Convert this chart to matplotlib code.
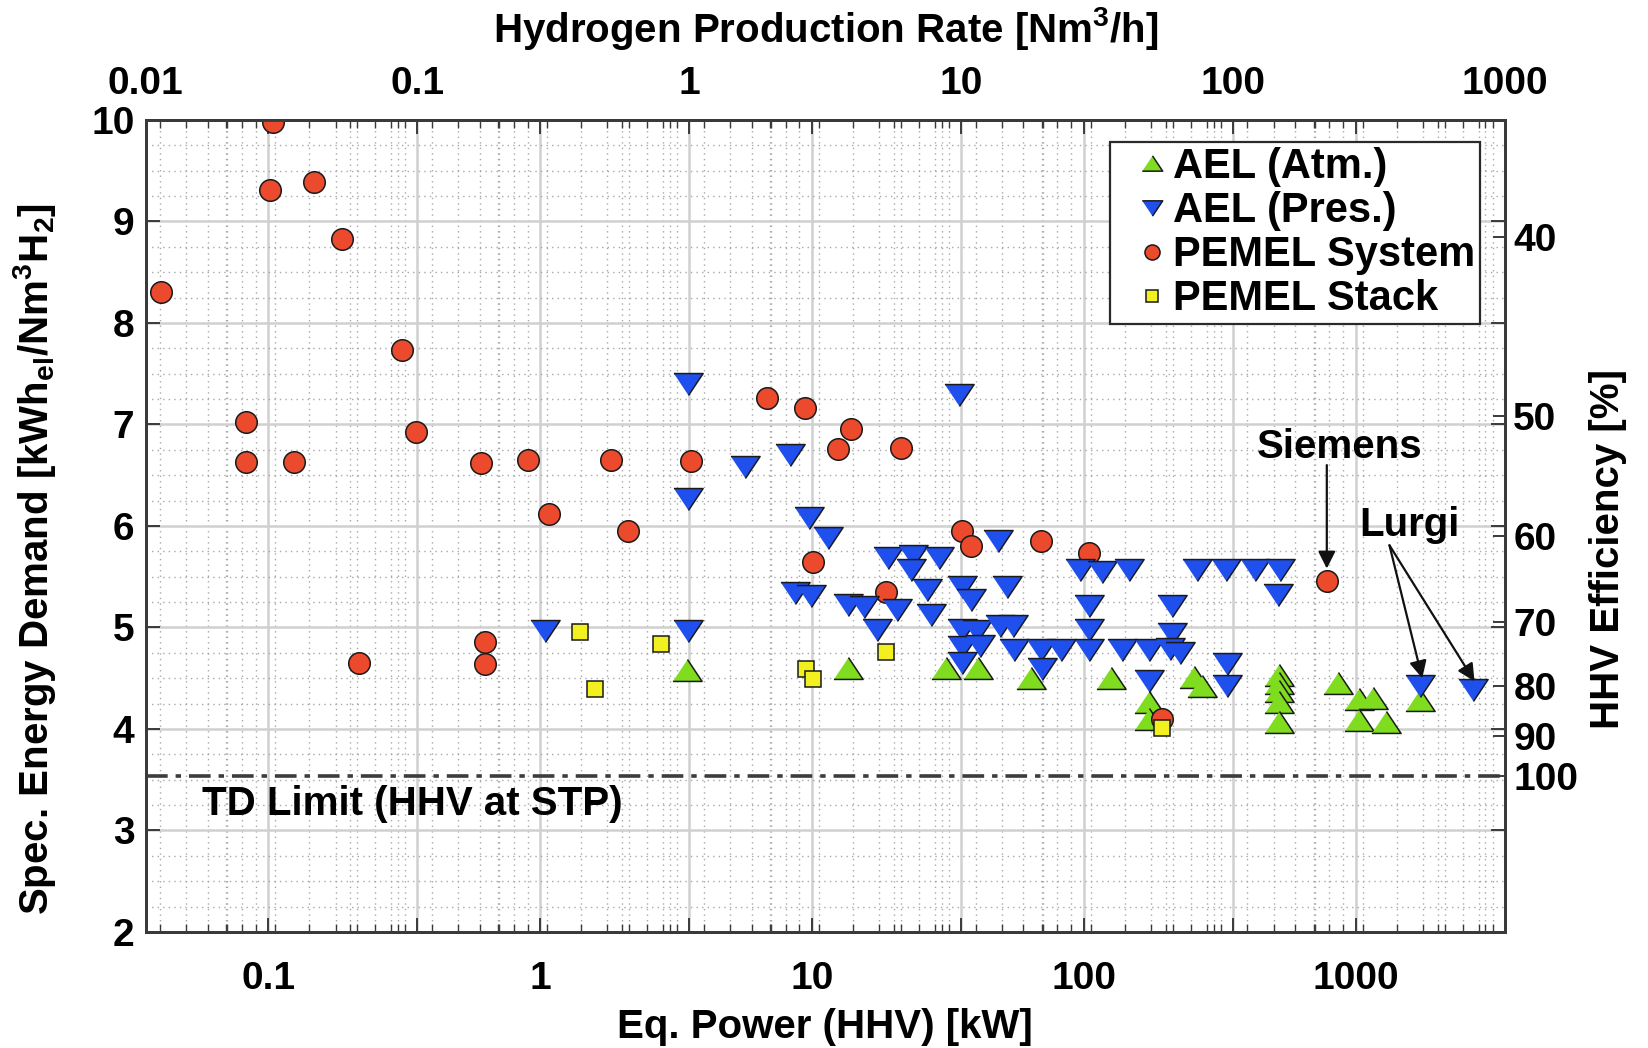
import matplotlib
matplotlib.use("Agg")
import matplotlib.pyplot as plt
from matplotlib.ticker import FixedLocator, FixedFormatter, LogLocator, MultipleLocator, NullFormatter, NullLocator

plt.rcParams['font.family'] = ['Liberation Sans', 'DejaVu Sans']
plt.rcParams['mathtext.default'] = 'regular'

# ---------------- data (x in kW HHV, y in kWh_el / Nm3 H2) ----------------
ael_atm_kw = [3.46, 13.6, 31.0, 40.8, 64.1, 126, 173, 173, 254, 273,
              521, 521, 521, 521, 521, 859, 1028, 1156, 1030, 1295, 1718]
ael_atm_y = [4.58, 4.60, 4.60, 4.60, 4.50, 4.50, 4.27, 4.10, 4.51, 4.42,
             4.53, 4.45, 4.37, 4.27, 4.07, 4.45, 4.30, 4.31, 4.09, 4.07, 4.29]

ael_pres_kw = [1.04, 3.50, 3.50, 3.50, 5.66, 8.29,
               34.8, 9.76, 11.5, 48.5, 19.0, 23.5, 29.3, 23.2, 26.4, 35.5, 38.6, 52.0,
               8.65, 9.96, 13.6, 15.5, 20.5, 27.5, 17.3, 35.5, 40.6, 49.1, 35.5, 41.4, 35.5,
               96.6, 116.6, 146.5, 260.6, 334, 104.4, 211.5, 54.9, 104.4, 211.5, 55.2,
               69.8, 82.7, 104.4, 138, 173, 207, 225, 70.2, 173, 337, 337,
               425, 528, 517, 1718, 2697]
ael_pres_y = [4.97, 7.40, 6.27, 4.97, 6.58, 6.70,
              7.29, 6.08, 5.88, 5.85, 5.68, 5.70, 5.68, 5.57, 5.37, 5.40, 5.27, 5.40,
              5.34, 5.31, 5.22, 5.20, 5.17, 5.12, 4.98, 4.98, 4.97, 5.01, 4.81, 4.82, 4.65,
              5.57, 5.55, 5.57, 5.57, 5.57, 5.21, 5.21, 5.01, 4.98, 4.94, 4.78,
              4.78, 4.78, 4.78, 4.78, 4.78, 4.79, 4.75, 4.59, 4.47, 4.64, 4.42,
              5.57, 5.57, 5.32, 4.42, 4.38]

pemel_sys_kw = [0.0405, 0.1045, 0.102, 0.147, 0.187, 0.31, 0.083, 0.35, 0.083, 0.125,
                0.605, 0.906, 1.83, 3.59, 6.85, 9.4, 1.08, 2.11, 0.216, 0.628, 0.628,
                10.1, 13.9, 12.5, 21.2, 35.5, 38.4, 18.7, 69.8, 104.4, 193.8, 783]
pemel_sys_y = [8.31, 9.98, 9.31, 9.39, 8.83, 7.73, 7.02, 6.93, 6.63, 6.63,
               6.62, 6.65, 6.65, 6.64, 7.26, 7.16, 6.12, 5.95, 4.65, 4.86, 4.64,
               5.65, 6.96, 6.76, 6.77, 5.95, 5.80, 5.35, 5.85, 5.73, 4.10, 5.46]

pemel_stack_kw = [1.40, 1.59, 2.79, 9.49, 10.1, 18.7, 193.8]
pemel_stack_y = [4.96, 4.39, 4.84, 4.59, 4.49, 4.76, 4.01]

hhv = 3.54                      # kWh / Nm3 (thermodynamic limit)
eff_ticks = [40, 50, 60, 70, 80, 90, 100]
bottom_ticks = [0.1, 1, 10, 100, 1000]
bottom_labels = ['0.1', '1', '10', '100', '1000']
top_ticks = [0.01, 0.1, 1, 10, 100, 1000]
top_labels = ['0.01', '0.1', '1', '10', '100', '1000']
y_ticks = [2, 3, 4, 5, 6, 7, 8, 9, 10]

# ---------------- figure ----------------
fig = plt.figure(figsize=(16.48, 10.48), dpi=100)
ax = fig.add_axes([0.0883, 0.1107, 0.8249, 0.7748])
ax_top = ax.twiny()
ax_right = ax.twinx()

ax_top.set_zorder(0)
ax.set_zorder(1)
ax_right.set_zorder(2)
ax.patch.set_visible(False)
ax_right.patch.set_visible(False)
ax_top.patch.set_facecolor('white')

TICK_FS = 28
LABEL_FS = 29
TXT = dict(fontsize=LABEL_FS, fontweight='bold')
spine_c = '#3a3a3a'
major_grid = dict(color='#d0d0d0', linewidth=1.8, linestyle='-')
minor_grid = dict(color='#a8a8a8', linewidth=1.0, linestyle=(0, (1, 3)))

# bottom axis (kW)
ax.set_xscale('log')
ax.set_xlim(0.01 * hhv, 1000 * hhv)
ax.set_ylim(2, 10)
ax.xaxis.set_major_locator(FixedLocator(bottom_ticks))
ax.xaxis.set_major_formatter(FixedFormatter(bottom_labels))
ax.xaxis.set_minor_locator(LogLocator(base=10, subs=range(2, 10), numticks=20))
ax.xaxis.set_minor_formatter(NullFormatter())
ax.yaxis.set_major_locator(FixedLocator(y_ticks))
ax.yaxis.set_minor_locator(MultipleLocator(0.25))
ax.yaxis.set_minor_formatter(NullFormatter())
ax.tick_params(axis='x', which='both', direction='in', bottom=True, top=True,
               labelbottom=True, labeltop=False, pad=21, color=spine_c)
ax.tick_params(axis='x', which='major', length=10, width=1.4)
ax.tick_params(axis='x', which='minor', length=6, width=1.0)
ax.tick_params(axis='y', which='major', direction='in', left=True, right=True,
               labelleft=True, labelright=False, length=10,
               width=1.4, pad=8, color=spine_c)
ax.tick_params(axis='y', which='minor', length=0)
ax.grid(True, which='major', axis='both', **major_grid)
ax.grid(True, which='minor', axis='both', **minor_grid)
ax.set_axisbelow(True)

# top axis (Nm3/h)
ax_top.set_xscale('log')
ax_top.set_xlim(0.01, 1000)
ax_top.xaxis.set_major_locator(FixedLocator(top_ticks))
ax_top.xaxis.set_major_formatter(FixedFormatter(top_labels))
ax_top.xaxis.set_minor_locator(LogLocator(base=10, subs=range(2, 10), numticks=20))
ax_top.xaxis.set_minor_formatter(NullFormatter())
ax_top.tick_params(axis='x', which='both', direction='in', bottom=True, top=True,
                   labelbottom=False, labeltop=True, pad=13, color=spine_c)
ax_top.tick_params(axis='x', which='major', length=10, width=1.4)
ax_top.tick_params(axis='x', which='minor', length=6, width=1.0)
ax_top.grid(True, which='major', axis='x', **major_grid)
ax_top.grid(True, which='minor', axis='x', **minor_grid)
ax_top.set_xlabel('Hydrogen Production Rate [Nm$^3$/h]', labelpad=17, **TXT)

# right axis (efficiency)
ax_right.set_ylim(2, 10)
ax_right.yaxis.set_major_locator(FixedLocator([hhv * 100.0 / e for e in eff_ticks]))
ax_right.yaxis.set_major_formatter(FixedFormatter([str(e) for e in eff_ticks]))
ax_right.yaxis.set_minor_locator(NullLocator())
ax_right.tick_params(axis='y', direction='in', right=True, left=False, length=9,
                     width=1.4, pad=6, color=spine_c)
ax_right.set_ylabel('HHV Efficiency [%]', **TXT)
ax_right.yaxis.set_label_coords(1.062, 0.472)

for a in (ax, ax_top, ax_right):
    for s in a.spines.values():
        s.set_linewidth(2.0)
        s.set_color(spine_c)
    for lab in a.get_xticklabels() + a.get_yticklabels():
        lab.set_fontsize(TICK_FS)
        lab.set_fontweight('bold')

# ---------------- markers ----------------
tri_up = [(-1, -0.75), (1, -0.75), (0, 0.75)]
tri_dn = [(-1, 0.75), (1, 0.75), (0, -0.75)]
ax.plot(ael_atm_kw, ael_atm_y, linestyle='none', marker=tri_up, markersize=21,
        markerfacecolor='#7fdc1e', markeredgecolor='#1a1a1a', markeredgewidth=1.1,
        label='AEL (Atm.)', zorder=3)
ax.plot(pemel_sys_kw, pemel_sys_y, linestyle='none', marker='o', markersize=15.5,
        markerfacecolor='#ec4a2c', markeredgecolor='#1a1a1a', markeredgewidth=1.1,
        label='PEMEL System', zorder=4)
ax.plot(ael_pres_kw, ael_pres_y, linestyle='none', marker=tri_dn, markersize=21,
        markerfacecolor='#1f50ee', markeredgecolor='#1a1a1a', markeredgewidth=1.1,
        label='AEL (Pres.)', zorder=5)
ax.plot(pemel_stack_kw, pemel_stack_y, linestyle='none', marker='s', markersize=11.5,
        markerfacecolor='#f2f01e', markeredgecolor='#1a1a1a', markeredgewidth=1.1,
        label='PEMEL Stack', zorder=6)

# thermodynamic limit
ax.axhline(hhv, color='#3c3c3c', linewidth=2.6, linestyle=(0, (6, 2.2, 1.5, 2.2)), zorder=2)
ax.text(0.0571, 3.26, 'TD Limit (HHV at STP)', ha='left', va='center', zorder=7, **TXT)

# annotations
arrow_kw = dict(arrowstyle='-|>', color='#111111', lw=1.6, mutation_scale=26,
                shrinkA=0, shrinkB=0)
ax.text(873, 6.78, 'Siemens', ha='center', va='center', zorder=7, **TXT)
ax.annotate('', xy=(783, 5.58), xytext=(783, 6.60), arrowprops=arrow_kw, zorder=7)
ax.text(1578, 6.01, 'Lurgi', ha='center', va='center', zorder=7, **TXT)
ax.annotate('', xy=(1757, 4.50), xytext=(1331, 5.81), arrowprops=arrow_kw, zorder=7)
ax.annotate('', xy=(2735, 4.47), xytext=(1331, 5.81), arrowprops=arrow_kw, zorder=7)

ax.set_xlabel('Eq. Power (HHV) [kW]', labelpad=8, **TXT)
ax.set_ylabel('Spec. Energy Demand [kWh$_{el}$/Nm$^3$H$_2$]', **TXT)
ax.yaxis.set_label_coords(-0.0644, 0.459)

# legend
handles, labels = ax.get_legend_handles_labels()
order = ['AEL (Atm.)', 'AEL (Pres.)', 'PEMEL System', 'PEMEL Stack']
hl = dict(zip(labels, handles))
leg = ax.legend([hl[k] for k in order], order, loc='upper right',
                bbox_to_anchor=(0.982, 0.973), frameon=True,
                prop=dict(size=30, weight='bold'),
                fancybox=False, markerscale=0.7, handlelength=1.8, handletextpad=-0.4,
                borderpad=0.12, labelspacing=0.1, borderaxespad=0)
leg.get_frame().set_edgecolor('#2a2a2a')
leg.get_frame().set_linewidth(1.6)
leg.get_frame().set_alpha(1)
leg.set_zorder(10)

fig.savefig('out.png', dpi=100)
